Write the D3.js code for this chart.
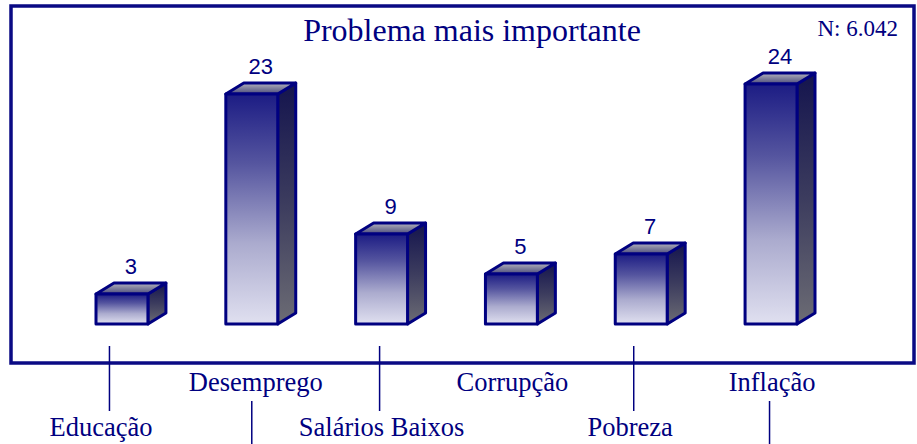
<!DOCTYPE html>
<html>
<head>
<meta charset="utf-8">
<script src="https://cdn.jsdelivr.net/npm/d3@7"></script>
<style>
  html, body { margin: 0; padding: 0; background: #ffffff; }
  svg { display: block; }
</style>
</head>
<body>
<svg id="chart" width="917" height="444"></svg>
<script>
// Survey: most important problem (percent of respondents)
const categories = ["Educação", "Desemprego", "Salários Baixos", "Corrupção", "Pobreza", "Inflação"];
const values = [3, 23, 9, 5, 7, 24];
const titleText = "Problema mais importante";
const sampleText = "N: 6.042";

// Layout: horizontal nudge of each category caption from its column centre
const captionNudge = [-21, 4, 0, 1, -11, 1];

const W = 917, H = 444;
const navy = "#000080";
const depthX = 18, depthY = 11;   // 3-D extrusion of each column

const svg = d3.select("#chart");
const defs = svg.append("defs");

function gradient(id, stops) {
  const g = defs.append("linearGradient").attr("id", id)
    .attr("x1", 0).attr("y1", 0).attr("x2", 0).attr("y2", 1);
  stops.forEach(([o, c]) => g.append("stop").attr("offset", o).attr("stop-color", c));
}
gradient("gFront", [[0, "#1c1c84"], [0.3, "#55559f"], [0.65, "#ababce"], [1, "#e0e0f0"]]);
gradient("gSide", [[0, "#14144e"], [0.5, "#3c3c5e"], [1, "#6c6c74"]]);
gradient("gTop", [[0, "#b2b2bc"], [1, "#4c4c7c"]]);

// Frame
svg.append("rect")
  .attr("x", 11).attr("y", 6).attr("width", 903).attr("height", 357)
  .attr("fill", "#ffffff").attr("stroke", "#0a0a84").attr("stroke-width", 3.5);

// Scales
const x = d3.scaleBand().domain(categories).range([96, 797])
  .paddingInner(0.6).paddingOuter(0);
const y = d3.scaleLinear().domain([0, 24]).range([324, 84]);
const bw = x.bandwidth();

// Title and sample size
svg.append("text")
  .attr("x", 472).attr("y", 41).attr("text-anchor", "middle")
  .attr("font-family", "'Liberation Serif', 'Times New Roman', serif")
  .attr("font-size", 32).attr("fill", navy).text(titleText);
svg.append("text")
  .attr("x", 898).attr("y", 36).attr("text-anchor", "end")
  .attr("font-family", "'Liberation Serif', 'Times New Roman', serif")
  .attr("font-size", 23).attr("fill", navy).text(sampleText);

// Columns
const data = categories.map((c, i) => ({ c, v: values[i] }));
const bars = svg.append("g").selectAll("g").data(data).join("g");

bars.each(function (d) {
  const g = d3.select(this);
  const x0 = x(d.c), x1 = x0 + bw;
  const yt = y(d.v), yb = y(0);
  const poly = (pts, fill) => g.append("polygon")
    .attr("points", pts.map(q => q.join(",")).join(" "))
    .attr("fill", fill).attr("stroke", navy)
    .attr("stroke-width", 3).attr("stroke-linejoin", "round");
  // side face
  poly([[x1, yt], [x1 + depthX, yt - depthY], [x1 + depthX, yb - depthY], [x1, yb]], "url(#gSide)");
  // top face
  poly([[x0, yt], [x0 + depthX, yt - depthY], [x1 + depthX, yt - depthY], [x1, yt]], "url(#gTop)");
  // front face
  poly([[x0, yt], [x1, yt], [x1, yb], [x0, yb]], "url(#gFront)");
  // value label
  g.append("text")
    .attr("x", x0 + (bw + depthX) / 2).attr("y", yt - depthY - 9)
    .attr("text-anchor", "middle")
    .attr("font-family", "'Liberation Sans', Arial, sans-serif")
    .attr("font-size", 22).attr("fill", navy).text(d.v);
});

// Category captions on two staggered rows with leader lines
const labelG = svg.append("g");
data.forEach((d, i) => {
  const cx = x(d.c) + bw / 2;
  const tx = cx + captionNudge[i];
  const upper = i % 2 === 1;
  labelG.append("text")
    .attr("x", tx).attr("y", upper ? 391 : 436)
    .attr("text-anchor", "middle")
    .attr("font-family", "'Liberation Serif', 'Times New Roman', serif")
    .attr("font-size", 26.5).attr("fill", navy).text(d.c);
  if (d.c === "Corrupção") return;
  const lx = (cx + tx) / 2 - 2;
  labelG.append("line")
    .attr("x1", lx).attr("x2", lx)
    .attr("y1", upper ? 401 : 346).attr("y2", upper ? 444 : 411)
    .attr("stroke", navy).attr("stroke-width", 1.5);
});
</script>
</body>
</html>
